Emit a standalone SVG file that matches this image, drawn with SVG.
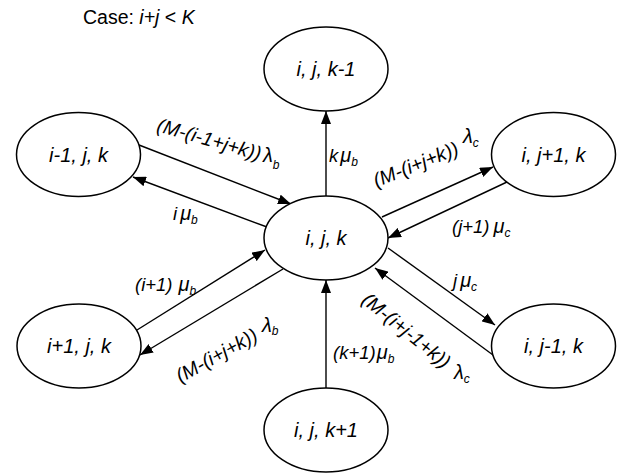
<svg xmlns="http://www.w3.org/2000/svg" width="631" height="476" viewBox="0 0 631 476">
<defs>
<marker id="arr" viewBox="0 0 13 10" refX="13" refY="5" markerWidth="13" markerHeight="10" markerUnits="userSpaceOnUse" orient="auto"><path d="M0,0 L13,5 L0,10 z" fill="#000"/></marker>
<style>
.n ellipse{fill:#fff;stroke:#000;stroke-width:1.5}
.n text{font-family:"Liberation Sans",Arial,sans-serif;font-style:italic;font-size:20px;text-anchor:middle;fill:#000}
.c line{stroke:#000;stroke-width:1.4;marker-end:url(#arr)}
.l{font-family:"Liberation Sans",Arial,sans-serif;font-style:italic;font-size:18.5px;fill:#000}
.r{font-size:19.5px;text-anchor:middle}
.g{font-family:"Liberation Sans",Arial,sans-serif;font-style:italic;font-size:20px;fill:#000}
.s{font-size:12px}
</style>
</defs>
<rect width="631" height="476" fill="#fff"/>
<text x="83" y="24" font-family="Liberation Sans, Arial, sans-serif" font-size="19.5">Case: <tspan font-style="italic">i+j</tspan> &lt; <tspan font-style="italic">K</tspan></text>
<g class="c" id="connectors">
<line x1="326" y1="197" x2="326" y2="111"/>
<line x1="326" y1="388" x2="326" y2="280"/>
<line x1="139" y1="145" x2="291" y2="204"/>
<line x1="267" y1="227" x2="133" y2="177"/>
<line x1="137" y1="330" x2="265" y2="250"/>
<line x1="283" y1="269" x2="140" y2="355"/>
<line x1="382" y1="217" x2="493" y2="167"/>
<line x1="507" y1="182" x2="388" y2="238"/>
<line x1="388" y1="248" x2="495" y2="325"/>
<line x1="493" y1="355" x2="375" y2="268"/>
</g>
<g class="n" id="n_center"><ellipse cx="326" cy="238" rx="62" ry="42"/><text x="326" y="245">i, j, k</text></g>
<g class="n" id="n_top"><ellipse cx="326" cy="69" rx="62" ry="42"/><text x="326" y="76">i, j, k-1</text></g>
<g class="n" id="n_bottom"><ellipse cx="326" cy="430" rx="62" ry="42"/><text x="326" y="437">i, j, k+1</text></g>
<g class="n" id="n_lefttop"><ellipse cx="78.5" cy="154.5" rx="62" ry="42"/><text x="78.5" y="161.5">i-1, j, k</text></g>
<g class="n" id="n_leftbottom"><ellipse cx="79" cy="346" rx="62" ry="42"/><text x="79" y="353">i+1, j, k</text></g>
<g class="n" id="n_righttop"><ellipse cx="553.5" cy="154.5" rx="62" ry="42"/><text x="553.5" y="161.5">i, j+1, k</text></g>
<g class="n" id="n_rightbottom"><ellipse cx="553.5" cy="346" rx="62" ry="42"/><text x="553.5" y="353">i, j-1, k</text></g>
<g id="labels">
<text class="l r" transform="translate(209,140) rotate(16)" x="0" y="6">(M-(i-1+j+k))</text>
<text class="g" x="263" y="162">λ<tspan class="s" dy="7">b</tspan></text>
<text class="l" x="173" y="220">i<tspan class="g" dx="3">μ</tspan><tspan class="s" dy="4">b</tspan></text>
<text class="l" x="329" y="162">k<tspan class="g" dx="2">μ</tspan><tspan class="s" dy="4">b</tspan></text>
<text class="l r" transform="translate(416,165) rotate(-22)" x="0" y="6">(M-(i+j+k))</text>
<text class="g" x="463" y="143">λ<tspan class="s" dy="4">c</tspan></text>
<text class="l" x="452" y="233">(j+1)<tspan class="g" dx="4">μ</tspan><tspan class="s" dy="4">c</tspan></text>
<text class="l" x="453" y="287">j<tspan class="g" dx="3">μ</tspan><tspan class="s" dy="4">c</tspan></text>
<text class="l r" transform="translate(406,331) rotate(39)" x="0" y="6">(M-(i+j-1+k))</text>
<text class="g" x="454" y="379">λ<tspan class="s" dy="4">c</tspan></text>
<text class="l r" transform="translate(217,356) rotate(-29)" x="0" y="6">(M-(i+j+k))</text>
<text class="g" x="262" y="332">λ<tspan class="s" dy="3">b</tspan></text>
<text class="l" x="135" y="291">(i+1)<tspan class="g" dx="6">μ</tspan><tspan class="s" dy="4">b</tspan></text>
<text class="l" x="333" y="359">(k+1)<tspan class="g" dx="1">μ</tspan><tspan class="s" dy="4">b</tspan></text>
</g>
</svg>
